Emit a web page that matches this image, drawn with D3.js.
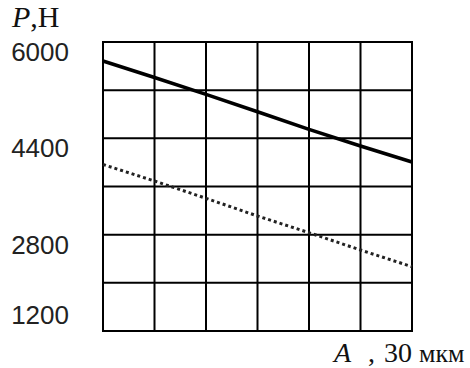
<html>
<head>
<meta charset="utf-8">
<style>
    body { margin: 0; background: white; }
    svg { display: block; }
</style>
<script src="https://d3js.org/d3.v7.min.js"></script>
</head>
<body>
<svg id="chart"></svg>
<script>
    // values
    let aValues = [0, 30, 60, 90, 120, 150, 180]
    let pSolid = [5684, 5410, 5131, 4842, 4550, 4273, 4007]
    let pDotted = [3965, 3691, 3404, 3110, 2833, 2545, 2268]
    let xGrid = [0, 30, 60, 90, 120, 150, 180]
    let yGrid = [1200, 2000, 2800, 3600, 4400, 5200, 6000]
    let yLabels = [6000, 4400, 2800, 1200]

    let width = 470
    let height = 368
    let margin = { top: 42, bottom: 37, left: 103, right: 58 }

    let svg = d3.select('#chart')
        .attr('width', width)
        .attr('height', height)

    let xScale = d3.scaleLinear()
        .domain([0, 180])
        .range([margin.left, width - margin.right])

    let yScale = d3.scaleLinear()
        .domain([1200, 6000])
        .range([height - margin.bottom, margin.top])

    // grid
    let grid = svg.append('g')
    grid.selectAll('.vline').data(xGrid)
        .enter().append('line')
        .attr('x1', d => xScale(d)).attr('x2', d => xScale(d))
        .attr('y1', yScale(6000) - 1).attr('y2', yScale(1200) + 1)
        .attr('stroke', '#000').attr('stroke-width', 2)
    grid.selectAll('.hline').data(yGrid)
        .enter().append('line')
        .attr('y1', d => yScale(d)).attr('y2', d => yScale(d))
        .attr('x1', xScale(0) - 1).attr('x2', xScale(180) + 1)
        .attr('stroke', '#000').attr('stroke-width', 2)

    let line = d3.line()
        .x((d, i) => xScale(aValues[i]))
        .y(d => yScale(d))

    svg.append('path')
        .datum(pSolid)
        .attr('d', line)
        .attr('fill', 'none')
        .attr('stroke', '#000')
        .attr('stroke-width', 3.5)

    svg.append('path')
        .datum(pDotted)
        .attr('d', line)
        .attr('fill', 'none')
        .attr('stroke', '#222')
        .attr('stroke-width', 3)
        .attr('stroke-dasharray', '3,3')

    // y labels, the lowest one is pulled up inside the grid
    let bottom = yScale(1200)
    svg.selectAll('.ylab').data(yLabels)
        .enter().append('text')
        .attr('x', 69)
        .attr('y', d => Math.min(yScale(d) + 19, bottom - 7))
        .attr('text-anchor', 'end')
        .attr('font-family', 'Liberation Sans, Arial, sans-serif')
        .attr('font-size', 26)
        .attr('fill', '#222')
        .text(d => d)

    // axis titles
    let pTitle = svg.append('text')
        .attr('x', 12).attr('y', 27)
        .attr('font-family', 'Liberation Serif, serif')
        .attr('font-size', 30)
        .attr('fill', '#111')
    pTitle.append('tspan').attr('font-style', 'italic').text('P')
    pTitle.append('tspan').text(',Н')

    let aTitle = svg.append('text')
        .attr('y', 362)
        .attr('font-family', 'Liberation Serif, serif')
        .attr('font-size', 28)
        .attr('fill', '#111')
    aTitle.append('tspan').attr('x', 334).attr('font-style', 'italic').text('A')
    aTitle.append('tspan').attr('x', 368).text(',')
    aTitle.append('tspan').attr('x', 384).text('30')
    aTitle.append('tspan').attr('x', 419).attr('font-size', 26).text('мкм')
</script>
</body>
</html>
